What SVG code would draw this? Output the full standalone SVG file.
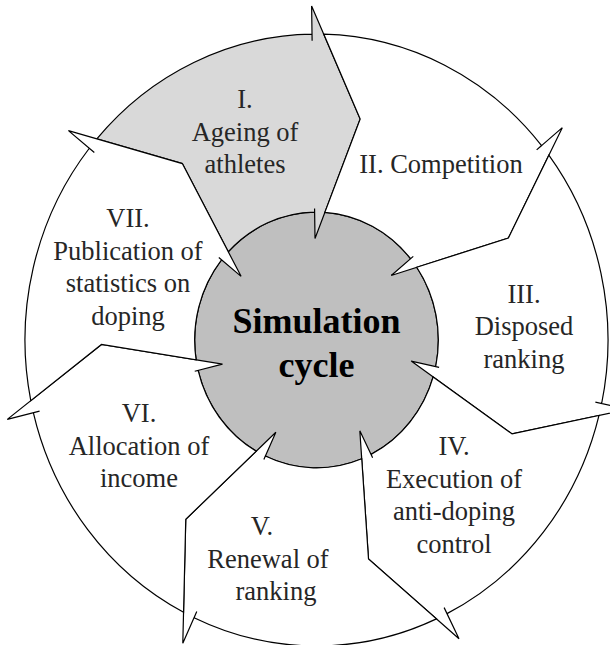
<svg xmlns="http://www.w3.org/2000/svg" width="610" height="645" viewBox="0 0 610 645">
<style>
.seg{fill:#ffffff;stroke:#000;stroke-width:1.2;stroke-linejoin:miter}
.segI{fill:#d9d9d9}
.lbl{font-family:"Liberation Serif","Times New Roman",serif;font-size:26.5px;fill:#262626;text-anchor:middle}
.ctr{font-family:"Liberation Serif","Times New Roman",serif;font-size:36px;font-weight:bold;fill:#000;text-anchor:middle}
</style>
<rect width="610" height="645" fill="#ffffff"/>
<g id="center">
<ellipse cx="316.5" cy="340" rx="121.85" ry="127.91" fill="#bfbfbf" stroke="#000" stroke-width="1.2"/>
</g>
<g id="seg-I">
<path class="seg segI" d="M96.83,138.84 A291.5,306 0 0 1 312.02,34.04 L312.12,40.77 L311.61,5.89 L360.18,118.94 L315.01,238.42 L314.57,208.44 L314.63,212.11 A121.85,127.91 0 0 0 228.27,251.77 L182.32,163.55 Z"/>
<text class="lbl" x="245" y="108">I.</text>
<text class="lbl" x="245" y="140.5">Ageing of</text>
<text class="lbl" x="245" y="173">athletes</text>
</g>
<g id="seg-II">
<path class="seg" d="M323.72,34.09 A291.5,306 0 0 1 541.58,145.56 L536.64,149.84 L562.29,127.67 L508.38,238.03 L391.23,275.45 L413.29,256.39 L410.59,258.72 A121.85,127.91 0 0 0 324.85,212.39 L360.18,118.94 Z"/>
<text class="lbl" x="441" y="173">II. Competition</text>
</g>
<g id="seg-III">
<path class="seg" d="M548.84,155.2 A291.5,306 0 0 1 601.65,403.5 L595.38,402.1 L627.89,409.34 L512.09,433.91 L411.17,361.08 L439.12,367.31 L435.7,366.54 A121.85,127.91 0 0 0 416.75,267.29 L508.38,238.03 Z"/>
<text class="lbl" x="524" y="302.5">III.</text>
<text class="lbl" x="524" y="335">Disposed</text>
<text class="lbl" x="524" y="367.5">ranking</text>
</g>
<g id="seg-IV">
<path class="seg" d="M599,415.46 A291.5,306 0 0 1 447,613.63 L444.13,607.62 L459,638.81 L368.51,559.07 L359.83,430.84 L372.62,457.66 L371.05,454.38 A121.85,127.91 0 0 0 433.16,376.94 L512.09,433.91 Z"/>
<text class="lbl" x="454" y="455">IV.</text>
<text class="lbl" x="454" y="487.5">Execution of</text>
<text class="lbl" x="454" y="520">anti-doping</text>
<text class="lbl" x="454" y="552.5">control</text>
</g>
<g id="seg-V">
<path class="seg" d="M436.43,618.91 A291.5,306 0 0 1 194.07,617.7 L196.77,611.6 L182.81,643.25 L185.76,519.28 L275.85,432.2 L263.85,459.41 L265.32,456.08 A121.85,127.91 0 0 0 361.72,458.78 L368.51,559.07 Z"/>
<text class="lbl" x="262" y="535">V.</text>
<text class="lbl" x="268" y="567.5">Renewal of</text>
<text class="lbl" x="276" y="600">ranking</text>
</g>
<g id="seg-VI">
<path class="seg" d="M183.56,612.32 A291.5,306 0 0 1 33.33,412.67 L39.56,411.07 L7.28,419.35 L101.47,344.48 L222.49,364.12 L194.73,371.25 L198.13,370.37 A121.85,127.91 0 0 0 256.23,451.17 L185.76,519.28 Z"/>
<text class="lbl" x="139" y="422">VI.</text>
<text class="lbl" x="139" y="454.5">Allocation of</text>
<text class="lbl" x="139" y="487">income</text>
</g>
<g id="seg-VII">
<path class="seg" d="M30.78,400.68 A291.5,306 0 0 1 89.32,148.26 L94.32,152.47 L68.42,130.61 L182.32,163.55 L241.08,276.34 L218.81,257.55 L221.54,259.85 A121.85,127.91 0 0 0 196.13,359.85 L101.47,344.48 Z"/>
<text class="lbl" x="128" y="227">VII.</text>
<text class="lbl" x="128" y="259.5">Publication of</text>
<text class="lbl" x="128" y="292">statistics on</text>
<text class="lbl" x="128" y="324.5">doping</text>
</g>
<g id="center-label">
<text class="ctr" x="316.5" y="333">Simulation</text>
<text class="ctr" x="316.5" y="377">cycle</text>
</g>
<g id="connectors"></g>
</svg>
